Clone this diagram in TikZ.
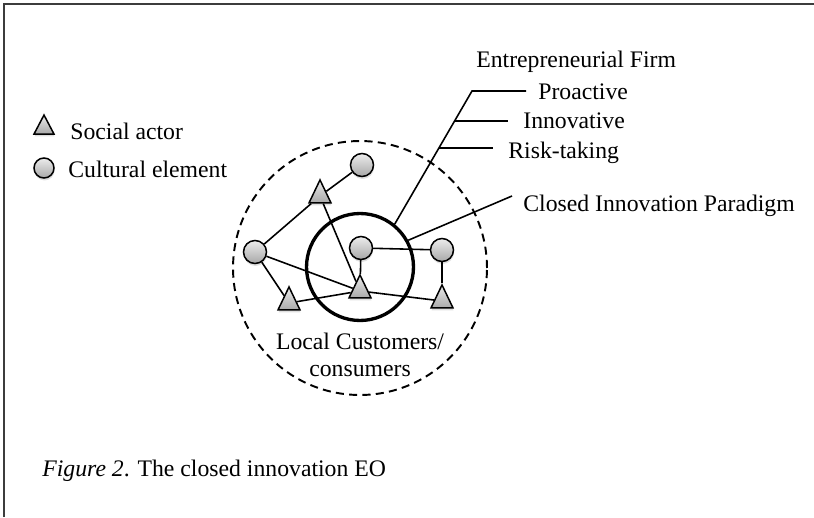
\documentclass[tikz,border=0pt]{standalone}
\usepackage{fontspec}
\setmainfont{Liberation Serif}
\usepackage{tikz}
\usetikzlibrary{shapes.geometric,shadows}
\definecolor{eoframe}{RGB}{60,60,60}
\definecolor{eolight}{RGB}{236,236,236}
\definecolor{eodark}{RGB}{168,168,168}

\tikzset{
  nodefill/.style={draw,line width=0.85pt,top color=eolight,bottom color=eodark,inner sep=0pt,
    drop shadow={opacity=0.25,shadow xshift=0.3pt,shadow yshift=-1.4pt}},
  elem/.style={circle,nodefill,minimum size=0.46cm},
  actor/.style={isosceles triangle,isosceles triangle stretches,shape border rotate=90,
    nodefill,minimum height=0.46cm,minimum width=0.44cm},
  link/.style={line width=0.9pt},
  lbl/.style={anchor=base west,inner sep=0pt},
}

\begin{document}
\begin{tikzpicture}[x=0.02cm,y=-0.02cm,font=\fontsize{13.5}{16}\selectfont]
\useasboundingbox (0,0) rectangle (814,517);
% ---------------- frame ----------------
\draw[eoframe,line width=0.7pt] (4,517) -- (4,4) -- (814,4);
% ---------------- legend ----------------
\node[actor,minimum height=0.38cm,minimum width=0.4cm] (lgact) at (44,128) {};
\node[lbl] (lgacttxt) at (70,139) {Social actor};
\node[elem,minimum size=0.4cm] (lgel) at (44,168) {};
\node[lbl] (lgeltxt) at (68,177) {Cultural element};
% ---------------- local environment and core ----------------
\draw[line width=1.1pt,dash pattern=on 4.6pt off 3pt] (360,268) circle (2.54cm);
\node[draw,circle,line width=1.9pt,minimum size=2.14cm] (core) at (360,267) {};
% ---------------- network ----------------
\node[elem]  (topel)    at (362,165) {};
\node[actor] (topact)   at (320,196) {};
\node[elem]  (leftel)   at (255,252) {};
\node[elem]  (midel)    at (361,248) {};
\node[elem]  (rightel)  at (442,250) {};
\node[actor] (midact)   at (360,291) {};
\node[actor] (lowact)   at (289,303) {};
\node[actor] (rightact) at (442,301) {};
\foreach \a/\b in {topel/topact,topact/leftel,topact/midact,leftel/midact,leftel/lowact,
                   lowact/midact,midact/rightact,midel/midact,midel/rightel,rightel/rightact}{
  \draw[link] (\a) -- (\b);}
\node[align=center,inner sep=0pt] (local) at (360,355) {Local Customers/\\[-1pt]consumers};
% ---------------- firm orientation ----------------
\node[lbl] (firm) at (476,68) {Entrepreneurial Firm};
\node[lbl] (pro)  at (538,99) {Proactive};
\node[lbl] (inno) at (523,129) {Innovative};
\node[lbl] (risk) at (508,158) {Risk-taking};
\coordinate (firmknee) at (472,91);
\coordinate (innopt) at (455,121);
\coordinate (riskpt) at (439,148);
\draw[link] (core.51) -- (firmknee) -- ++(54,0);
\draw[link] (innopt) -- ++(53,0);
\draw[link] (riskpt) -- ++(54,0);
\node[lbl] (cip) at (523,211) {Closed Innovation Paradigm};
\coordinate (cipend) at (512,196);
\draw[link] (core.29) -- (cipend);
% ---------------- caption ----------------
\node[lbl] (caption) at (42,476) {{\itshape Figure 2}. The closed innovation EO};
\end{tikzpicture}
\end{document}
